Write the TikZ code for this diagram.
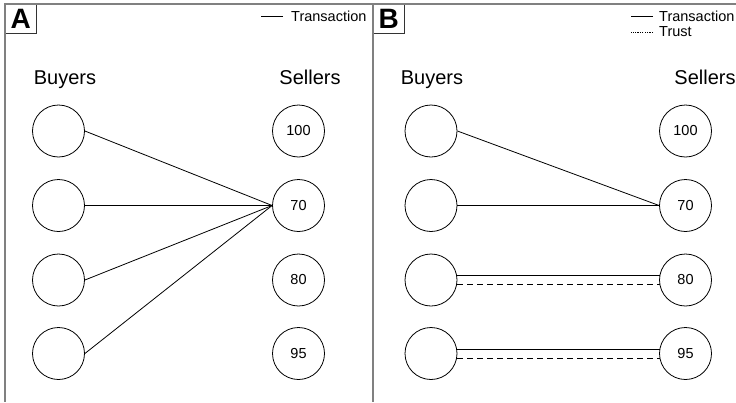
\documentclass[tikz,border=0pt]{standalone}
\usepackage{fontspec}
\setmainfont{Liberation Sans}
\tikzset{
  party/.style={draw, circle, minimum size=52pt, inner sep=0pt, line width=0.8pt, font=\fontsize{14.5}{16}\selectfont},
  head/.style={anchor=base, inner sep=0pt, font=\fontsize{20}{24}\selectfont},
  legend/.style={anchor=west, inner sep=0pt, font=\fontsize{14.5}{16}\selectfont},
  tag/.style={draw=black!80, line width=0.6pt, anchor=north west, minimum width=31pt, minimum height=29pt, inner sep=0pt, font=\fontsize{28}{30}\selectfont\bfseries},
  frame/.style={draw=gray, line width=1.5pt},
  deal/.style={line width=0.8pt},
  trust/.style={line width=0.8pt, dash pattern=on 6pt off 4pt}
}
\begin{document}
\begin{tikzpicture}[x=1pt,y=-1pt]
\useasboundingbox (0,0) rectangle (736,402);
% panel tags and frame
\node[tag] (tagA) at (5,4) {A}; \node[tag] (tagB) at (373,4) {B};
\draw[frame] (736,4) -- (5,4) -- (5,402); \draw[frame] (373,4) -- (373,402);
% legends
\node[legend] (legA) at (291,16) {Transaction}; \draw[deal] ([xshift=-8pt]legA.west) -- ++(-22,0);
\node[legend] (legB) at (659,16) {Transaction}; \draw[deal] ([xshift=-6pt]legB.west) -- ++(-22,0);
\node[legend] (legT) at (659,32) {Trust}; \draw[line width=0.8pt, dash pattern=on 1.2pt off 1.2pt] ([xshift=-6pt]legT.west) -- ++(-22,0);
% panel A
\node[head] (buyA) at (65,84) {Buyers}; \node[head] (selA) at (310,84) {Sellers};
\node[party] (ba1) at (58.5,131) {}; \node[party] (ba2) at (58.5,205.5) {};
\node[party] (ba3) at (58.5,280) {}; \node[party] (ba4) at (58.5,353.5) {};
\node[party] (sa100) at (298.5,131) {100}; \node[party] (sa70) at (298.5,205.5) {70};
\node[party] (sa80) at (298.5,280) {80}; \node[party] (sa95) at (298.5,353.5) {95};
\draw[deal] (ba1.east) -- (sa70.west); \draw[deal] (ba2.east) -- (sa70.west);
\draw[deal] (ba3.east) -- (sa70.west); \draw[deal] (ba4.east) -- (sa70.west);
% panel B
\node[head] (buyB) at (432,84) {Buyers}; \node[head] (selB) at (705,84) {Sellers};
\node[party] (bb1) at (431,131) {}; \node[party] (bb2) at (431,205.5) {};
\node[party] (bb3) at (431,280) {}; \node[party] (bb4) at (431,353.5) {};
\node[party] (sb100) at (685.5,131) {100}; \node[party] (sb70) at (685.5,205.5) {70};
\node[party] (sb80) at (685.5,280) {80}; \node[party] (sb95) at (685.5,353.5) {95};
\draw[deal] (bb1.east) -- (sb70.west); \draw[deal] (bb2.east) -- (sb70.west);
\draw[deal] (bb3.10) -- (sb80.170); \draw[trust] (bb3.-10) -- (sb80.-170);
\draw[deal] (bb4.10) -- (sb95.170); \draw[trust] (bb4.-10) -- (sb95.-170);
\end{tikzpicture}
\end{document}
